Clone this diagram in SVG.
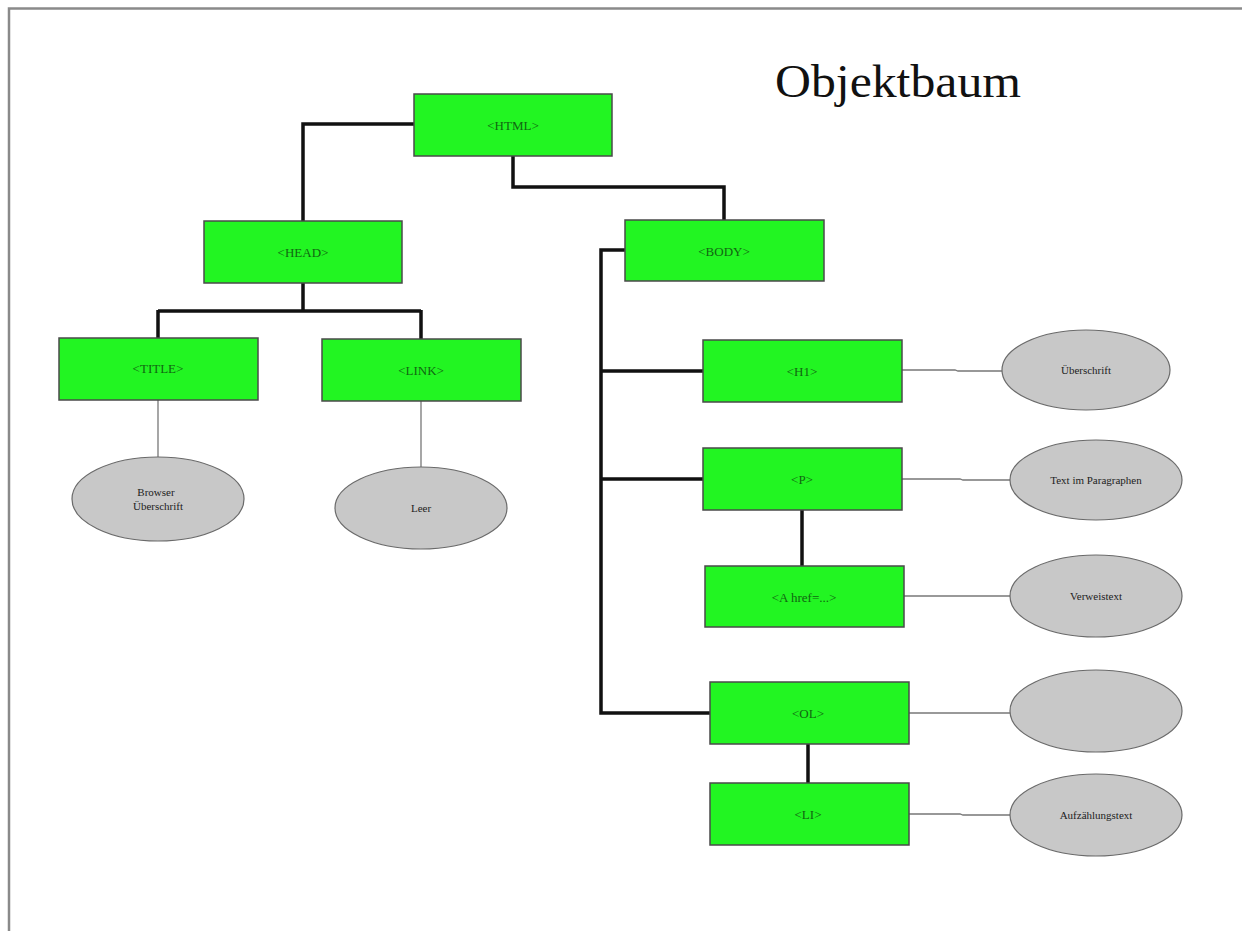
<svg xmlns="http://www.w3.org/2000/svg" width="1242" height="931" viewBox="0 0 1242 931">
<style>
.box{fill:#22f522;stroke:#4a4a4a;stroke-width:1.5}
.ell{fill:#c8c8c8;stroke:#6a6a6a;stroke-width:1.2}
.bt{font-family:"Liberation Serif",serif;font-size:13px;fill:#116611;text-anchor:middle}
.et{font-family:"Liberation Serif",serif;font-size:11px;fill:#222;text-anchor:middle}
.thick{fill:none;stroke:#111;stroke-width:3.5}
.thin{fill:none;stroke:#777;stroke-width:1.3}
</style>
<rect x="0" y="0" width="1242" height="931" fill="#fff"/>
<path d="M9 931 V8.5 H1242" fill="none" stroke="#8a8a8a" stroke-width="2.5"/>
<text x="775" y="97" font-family="Liberation Serif,serif" font-size="46" fill="#111" textLength="246" lengthAdjust="spacingAndGlyphs">Objektbaum</text>
<g id="connectors">
<path class="thick" d="M414 124 H303 V221"/>
<path class="thick" d="M513 156 V187 H724 V220"/>
<path class="thick" d="M303 283 V311 M158 311 H421 M158 310 V338 M421 310 V339"/>
<path class="thick" d="M625 250 H601 V713 H710 M601 371 H703 M601 479 H703"/>
<path class="thick" d="M802 510 V566"/>
<path class="thick" d="M808 744 V783"/>
<path class="thin" d="M158 400 V457"/>
<path class="thin" d="M421 401 V467"/>
<path class="thin" d="M902 370 H955 L958 371 H1002"/>
<path class="thin" d="M902 479 H960 L963 480 H1010"/>
<path class="thin" d="M904 596 H1010"/>
<path class="thin" d="M909 713 H1010"/>
<path class="thin" d="M909 814 H960 L963 815 H1010"/>
</g>
<g id="n-html"><rect class="box" x="414" y="94" width="198" height="62"/><text class="bt" x="513" y="130">&lt;HTML&gt;</text></g>
<g id="n-head"><rect class="box" x="204" y="221" width="198" height="62"/><text class="bt" x="303" y="257">&lt;HEAD&gt;</text></g>
<g id="n-body"><rect class="box" x="625" y="220" width="199" height="61"/><text class="bt" x="724" y="256">&lt;BODY&gt;</text></g>
<g id="n-title"><rect class="box" x="59" y="338" width="199" height="62"/><text class="bt" x="158" y="373">&lt;TITLE&gt;</text></g>
<g id="n-link"><rect class="box" x="322" y="339" width="199" height="62"/><text class="bt" x="421" y="375">&lt;LINK&gt;</text></g>
<g id="n-h1"><rect class="box" x="703" y="340" width="199" height="62"/><text class="bt" x="802" y="376">&lt;H1&gt;</text></g>
<g id="n-p"><rect class="box" x="703" y="448" width="199" height="62"/><text class="bt" x="802" y="484">&lt;P&gt;</text></g>
<g id="n-a"><rect class="box" x="705" y="566" width="199" height="61"/><text class="bt" x="804" y="602">&lt;A href=...&gt;</text></g>
<g id="n-ol"><rect class="box" x="710" y="682" width="199" height="62"/><text class="bt" x="808" y="718">&lt;OL&gt;</text></g>
<g id="n-li"><rect class="box" x="710" y="783" width="199" height="62"/><text class="bt" x="808" y="819">&lt;LI&gt;</text></g>
<g id="e-title"><ellipse class="ell" cx="158" cy="499" rx="86" ry="42"/><text class="et" x="156" y="496">Browser</text><text class="et" x="158" y="510">Überschrift</text></g>
<g id="e-link"><ellipse class="ell" cx="421" cy="508" rx="86" ry="41"/><text class="et" x="421" y="512">Leer</text></g>
<g id="e-h1"><ellipse class="ell" cx="1086" cy="370" rx="84" ry="40"/><text class="et" x="1086" y="374">Überschrift</text></g>
<g id="e-p"><ellipse class="ell" cx="1096" cy="480" rx="86" ry="40"/><text class="et" x="1096" y="484">Text im Paragraphen</text></g>
<g id="e-a"><ellipse class="ell" cx="1096" cy="596" rx="86" ry="41"/><text class="et" x="1096" y="600">Verweistext</text></g>
<g id="e-ol"><ellipse class="ell" cx="1096" cy="711" rx="86" ry="41"/></g>
<g id="e-li"><ellipse class="ell" cx="1096" cy="815" rx="86" ry="41"/><text class="et" x="1096" y="819">Aufzählungstext</text></g>
</svg>
